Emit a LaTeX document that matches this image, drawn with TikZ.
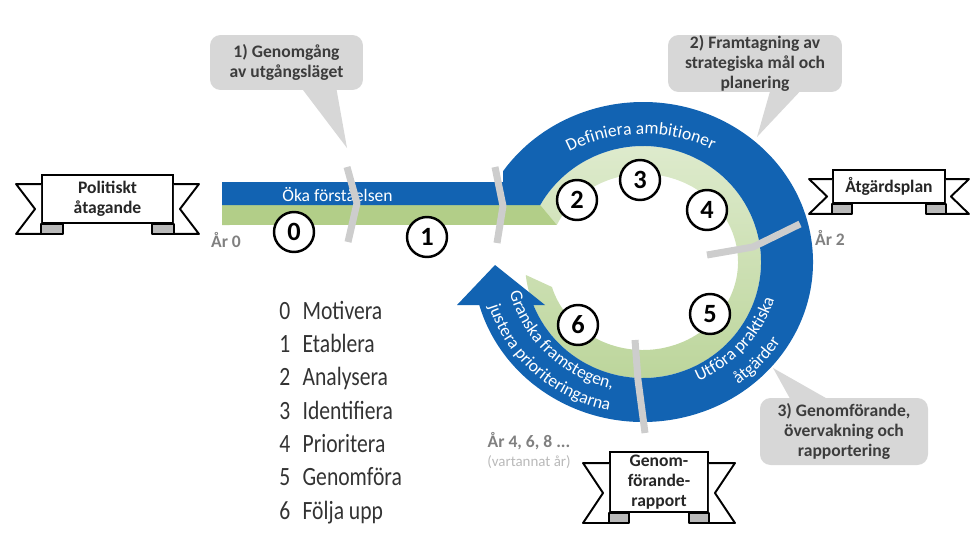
\documentclass[tikz,border=0pt]{standalone}
\usepackage{fontspec}
\setmainfont{Carlito}
\newfontfamily\listfont[FakeStretch=0.82]{Carlito}
\usepackage{xcolor}
\usepackage{tikz}
\usetikzlibrary{positioning,calc,decorations.text}

\definecolor{ringblue}{RGB}{18,99,178}
\definecolor{bargreen}{RGB}{178,206,136}
\definecolor{grnpale}{RGB}{224,236,208}
\definecolor{grnmid}{RGB}{186,212,152}
\definecolor{bubblegray}{RGB}{215,215,215}
\definecolor{bubbletext}{RGB}{60,60,60}
\definecolor{sepgray}{RGB}{205,205,205}
\definecolor{yeargray}{RGB}{128,128,128}
\newcommand{\ringfont}{\fontsize{10}{12}\selectfont}

\begin{document}
\begin{tikzpicture}[x=0.02cm, y=0.02cm,
	bubble/.style={fill=bubblegray, rounded corners=6pt, text=bubbletext, font=\bfseries\fontsize{10}{11.5}\selectfont, align=center, inner sep=0pt},
	banner/.style={draw, line width=1.1pt, fill=white, text=black!85, font=\bfseries\fontsize{10}{11.5}\selectfont, align=center, inner sep=0pt},
	ribbon/.style={draw, line width=1.1pt, fill=white, line join=round},
	fold/.style={draw, line width=1.1pt, fill=gray!55, line join=round},
	num/.style={circle, draw, line width=1.4pt, fill=white, minimum size=0.8cm, inner sep=0pt, font=\bfseries\fontsize{15}{15}\selectfont},
	sep/.style={sepgray, line width=0.14cm, line join=round},
	year/.style={text=yeargray, font=\bfseries\fontsize{10}{12}\selectfont, inner sep=0pt},
	yearsub/.style={text=gray!55, font=\fontsize{8.5}{10}\selectfont, inner sep=0pt},
	ringtxt/.style={decorate, decoration={text along path, text align=center, text color=white}}
	]
	\useasboundingbox (0,0) rectangle (979,535);
	\coordinate (ctr) at (643,273);
	
	% ==========================================
	% PRATBUBBLOR
	% ==========================================
	\node[bubble, minimum width=3.06cm, minimum height=1.1cm] (c1) at (286.5,472.5) {1) Genomgång\\av utgångsläget};
	\coordinate (t1) at (347,387);
	\fill[bubblegray] ($(c1.south)+(16,1)$) -- (t1) -- ($(c1.south)+(50,1)$) -- cycle;
	
	\node[bubble, minimum width=3.48cm, minimum height=1.14cm] (c2) at (755,471.5) {2) Framtagning av\\strategiska mål och\\planering};
	\coordinate (t2) at (757,398);
	\fill[bubblegray] ($(c2.south)+(15,1)$) -- (t2) -- ($(c2.south)+(45,1)$) -- cycle;
	
	\node[bubble, minimum width=3.36cm, minimum height=1.34cm] (c3) at (844,103.5) {3) Genomförande,\\övervakning och\\rapportering};
	\coordinate (t3) at (773,167);
	\fill[bubblegray] ($(c3.north)+(-54,-1)$) -- (t3) -- ($(c3.north)+(-17,-1)$) -- cycle;
	
	% ==========================================
	% BAND OCH CIRKEL
	% ==========================================
	% -- ljusgrön inre ring --
	\shade[top color=grnpale, bottom color=grnmid] ([shift={(ctr)}]150.6:118 and 116) arc[start angle=150.6, end angle=-173.6, x radius=118, y radius=116]
		-- ([shift={(ctr)}]-163.5:95 and 88) arc[start angle=-163.5, end angle=155.1, x radius=95, y radius=88] -- cycle;
	% -- grönt band --
	\fill[bargreen] (222,310) -- (222,330) -- (540.2,330) -- (556.8,310.1) -- cycle;
	% -- blått band med pil --
	\fill[ringblue] (222,330) -- (222,353) -- (503,353)
		-- ([shift={(ctr)}]145.4:170 and 160) arc[start angle=145.4, end angle=-164.4, x radius=170, y radius=160]
		-- (457,230) -- (495,270) -- (545,230)
		-- ([shift={(ctr)}]-158.2:118 and 116) arc[start angle=-158.2, end angle=150.6, x radius=118, y radius=116] -- cycle;
	
	% -- texter i bandet --
	\node[font=\ringfont, text=white] (oka) at (337.5,340) {Öka förståelsen};
	\path[ringtxt, decoration={text={|\ringfont|Definiera ambitioner}}] ([shift={(ctr)}]143:145 and 128) arc[start angle=143, end angle=39, x radius=145, y radius=128];
	\path[ringtxt, decoration={text={|\ringfont|Utföra praktiska}}] ([shift={(ctr)}]-84:137 and 130) arc[start angle=-84, end angle=2, x radius=137, y radius=130];
	\path[ringtxt, decoration={text={|\ringfont|åtgärder}}] ([shift={(ctr)}]-80:161 and 152) arc[start angle=-80, end angle=-4, x radius=161, y radius=152];
	\path[ringtxt, decoration={text={|\ringfont|Granska framstegen,}}] ([shift={(ctr)}]180:137 and 130) arc[start angle=180, end angle=270, x radius=137, y radius=130];
	\path[ringtxt, decoration={text={|\ringfont|justera prioriteringarna}}] ([shift={(ctr)}]182:161 and 152) arc[start angle=182, end angle=272, x radius=161, y radius=152];
	
	% -- avskiljare --
	\draw[sep] (347,368) -- (357,332) -- (348,293);
	\draw[sep] (495,368) -- (503,329) -- (497,292);
	\draw[sep] (707,280) -- (753,288) -- (800,311);
	\draw[sep] (635,195) -- (638,155) -- (645,102);
	
	% -- steg 0-6 --
	\node[num] (n0) at (294,303) {0};
	\node[num] (n1) at (427,298) {1};
	\node[num] (n2) at (577,335) {2};
	\node[num] (n3) at (640,355) {3};
	\node[num] (n4) at (707,325) {4};
	\node[num] (n5) at (710,221) {5};
	\node[num] (n6) at (578,210) {6};
	
	% ==========================================
	% BANDEROLLER
	% ==========================================
	% -- Politiskt åtagande --
	\node[banner, minimum width=2.62cm, minimum height=0.96cm] (pol) at (107.5,336) {Politiskt\\åtagande};
	\filldraw[ribbon] ($(pol.north west)+(0,-10)$) -- ++(-25,0) -- ($(pol.west)+(-6,-10)$) -- ($(pol.south west)+(-25,-10)$) -- ($(pol.south west)+(0,-10)$);
	\filldraw[fold] (pol.south west) rectangle ($(pol.south west)+(22,-10)$);
	\filldraw[ribbon] ($(pol.north east)+(0,-10)$) -- ++(25,0) -- ($(pol.east)+(6,-10)$) -- ($(pol.south east)+(25,-10)$) -- ($(pol.south east)+(0,-10)$);
	\filldraw[fold] (pol.south east) rectangle ($(pol.south east)+(-22,-10)$);
	
	% -- Åtgärdsplan --
	\node[banner, minimum width=2.24cm, minimum height=0.66cm] (atg) at (889,348.5) {Åtgärdsplan};
	\filldraw[ribbon] ($(atg.north west)+(0,-10)$) -- ++(-23,0) -- ($(atg.west)+(-5,-10)$) -- ($(atg.south west)+(-23,-10)$) -- ($(atg.south west)+(0,-10)$);
	\filldraw[fold] (atg.south west) rectangle ($(atg.south west)+(20,-10)$);
	\filldraw[ribbon] ($(atg.north east)+(0,-10)$) -- ++(23,0) -- ($(atg.east)+(5,-10)$) -- ($(atg.south east)+(23,-10)$) -- ($(atg.south east)+(0,-10)$);
	\filldraw[fold] (atg.south east) rectangle ($(atg.south east)+(-20,-10)$);
	
	% -- Genomföranderapport --
	\node[banner, minimum width=1.96cm, minimum height=1.2cm] (gen) at (659,53) {Genom-\\förande-\\rapport};
	\filldraw[ribbon] ($(gen.north west)+(0,-12)$) -- ++(-26,0) -- ($(gen.west)+(-6,-11)$) -- ($(gen.south west)+(-26,-10)$) -- ($(gen.south west)+(0,-10)$);
	\filldraw[fold] (gen.south west) rectangle ($(gen.south west)+(20,-10)$);
	\filldraw[ribbon] ($(gen.north east)+(0,-12)$) -- ++(26,0) -- ($(gen.east)+(6,-11)$) -- ($(gen.south east)+(26,-10)$) -- ($(gen.south east)+(0,-10)$);
	\filldraw[fold] (gen.south east) rectangle ($(gen.south east)+(-20,-10)$);
	
	% ==========================================
	% ÅRTAL OCH STEGLISTA
	% ==========================================
	\node[year] (ar0) at (226,295) {År 0};
	\node[year] (ar2) at (830,297) {År 2};
	\node[year] (ar4) at (529,94) {År 4, 6, 8 ...};
	\node[yearsub, below=3pt of ar4] (vart) {(vartannat år)};
	
	\node[anchor=west, text=black!80, font=\listfont\fontsize{15}{19}\selectfont, inner sep=0pt] (steg) at (279,122.5) {%
		\begin{tabular}{@{}l@{\hspace{7pt}}l@{}}
			0 & Motivera\\
			1 & Etablera\\
			2 & Analysera\\
			3 & Identifiera\\
			4 & Prioritera\\
			5 & Genomföra\\
			6 & Följa upp
	\end{tabular}};
	
\end{tikzpicture}
\end{document}
